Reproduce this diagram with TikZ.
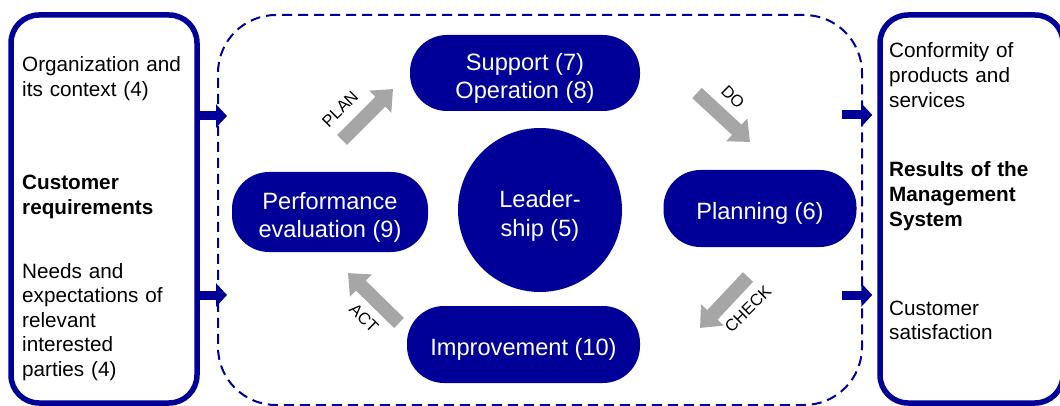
\documentclass[tikz,border=0pt]{standalone}
\usepackage{fontspec}
\setmainfont{Liberation Sans}
\usetikzlibrary{arrows.meta}
\definecolor{navy}{RGB}{0,0,153}
\definecolor{arrowgray}{RGB}{166,166,166}
\newcommand\pillstrut{\rule{0pt}{27pt}}
\begin{document}
\begin{tikzpicture}[x=1pt,y=-1pt,
  sidebox/.style={draw=navy, line width=5.5pt, rounded corners=28pt, inner sep=0},
  sidetext/.style={anchor=base west, text width=178pt, align=left, inner sep=0,
    font=\fontsize{20.7}{24.6}\selectfont},
  pill/.style={fill=navy, text=white, rounded corners=37pt, align=center, inner sep=0,
    font=\fontsize{23.6}{28}\selectfont},
  region/.style={draw=navy, line width=2pt, dash pattern=on 10pt off 6pt, rounded corners=58pt, inner sep=0},
  navarrow/.style={draw=navy, line width=9pt, -{Triangle[length=11pt,width=23pt]}},
  grayarrow/.style={draw=arrowgray, line width=14pt, -{Triangle[length=18pt,width=30pt]}},
  steplabel/.style={inner sep=0, font=\fontsize{16.5}{19}\selectfont}
]
\useasboundingbox (0,0) rectangle (1060,406);

% outer boxes
\node[sidebox, minimum width=186pt, minimum height=388pt] (leftbox) at (104,209) {};
\node[sidebox, minimum width=183pt, minimum height=388pt] (rightbox) at (971.5,209) {};
\node[region, minimum width=644pt, minimum height=390pt] (region) at (540,210) {};

% left texts
\node[sidetext] (org) at (22,72) {Organization and\\its context (4)};
\node[sidetext, font=\fontsize{20.7}{24.6}\selectfont\bfseries] (cust) at (22,190) {Customer\\requirements};
\node[sidetext] (needs) at (22,278) {Needs and\\expectations of\\relevant\\interested\\parties (4)};

% right texts
\node[sidetext] (conf) at (889,58) {Conformity of\\products and\\services};
\node[sidetext, font=\fontsize{20.7}{24.6}\selectfont\bfseries] (res) at (889,177) {Results of the\\Management\\System};
\node[sidetext] (sat) at (889,315) {Customer\\satisfaction};

% pills
\node[pill, minimum width=230pt, minimum height=76pt] (support) at (525,73) {\pillstrut Support (7)\\Operation (8)};
\node[pill, minimum width=196pt, minimum height=80pt] (perf) at (330,212) {\pillstrut Performance\\evaluation (9)};
\node[pill, minimum width=193pt, minimum height=77pt] (plan) at (760,208.5) {\pillstrut Planning (6)};
\node[pill, minimum width=233pt, minimum height=77pt] (impr) at (523.5,344.5) {\pillstrut Improvement (10)};
\node[circle, fill=navy, text=white, minimum size=164pt, inner sep=0, align=center,
  font=\fontsize{23.6}{28.5}\selectfont] (lead) at (540,210) {\rule{0pt}{29pt}Leader-\\ship (5)};

% input / output arrows
\coordinate (in1) at (227,116);
\coordinate (in2) at (227,295);
\draw[navarrow] (leftbox.east |- in1) -- (in1);
\draw[navarrow] (leftbox.east |- in2) -- (in2);
\coordinate (out1) at (842,115);
\coordinate (out2) at (842,295);
\draw[navarrow, shorten >=5pt] (out1) -- (rightbox.west |- out1);
\draw[navarrow, shorten >=5pt] (out2) -- (rightbox.west |- out2);

% PDCA arrows
\coordinate (planA) at (342,140); \coordinate (planB) at (393,89);
\coordinate (doA) at (697,93);    \coordinate (doB) at (750,142);
\coordinate (chkA) at (748,277);  \coordinate (chkB) at (700,328);
\coordinate (actA) at (399,323);  \coordinate (actB) at (348,273);
\draw[grayarrow] (planA) -- (planB);
\draw[grayarrow] (doA) -- (doB);
\draw[grayarrow] (chkA) -- (chkB);
\draw[grayarrow] (actA) -- (actB);

\node[steplabel, rotate=45] (planlbl) at (340,109) {PLAN};
\node[steplabel, rotate=-45] (dolbl) at (733,97) {DO};
\node[steplabel, rotate=45] (chklbl) at (748,309) {CHECK};
\node[steplabel, rotate=-45] (actlbl) at (364,318) {ACT};
\end{tikzpicture}
\end{document}
